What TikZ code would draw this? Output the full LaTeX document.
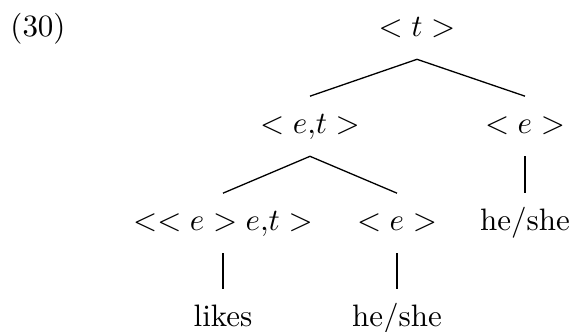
\documentclass[tikz,border=0pt]{standalone}
\begin{document}
\begin{tikzpicture}[x=0.3226pt, y=-0.3226pt,
  cat/.style={anchor=base, inner xsep=0pt, inner ysep=5pt,
              text height=7pt, text depth=2pt},
  branch/.style={line width=0.42pt}]
\useasboundingbox (0,0) rectangle (573,332);

% example number
\node[anchor=base, inner sep=0pt] (num) at (38,37) {(30)};

% tree nodes, one row per level
\node[cat] (t0)    at (417,37)  {$< t >$};
\node[cat] (et)    at (310,134) {$< e{,}t >$};
\node[cat] (e1)    at (525,134) {$< e >$};
\node[cat] (eet)   at (223,231) {$<< e > e{,}t >$};
\node[cat] (e2)    at (397,231) {$< e >$};
\node[cat] (hs1)   at (525,231) {he/she};
\node[cat] (likes) at (223,327) {likes};
\node[cat] (hs2)   at (397,327) {he/she};

% branches
\draw[branch] (t0.south) -- (et.north);
\draw[branch] (t0.south) -- (e1.north);
\draw[branch] (et.south) -- (eet.north);
\draw[branch] (et.south) -- (e2.north);
\draw[branch] (e1.south) -- (hs1.north);
\draw[branch] (eet.south) -- (likes.north);
\draw[branch] (e2.south) -- (hs2.north);
\end{tikzpicture}
\end{document}
